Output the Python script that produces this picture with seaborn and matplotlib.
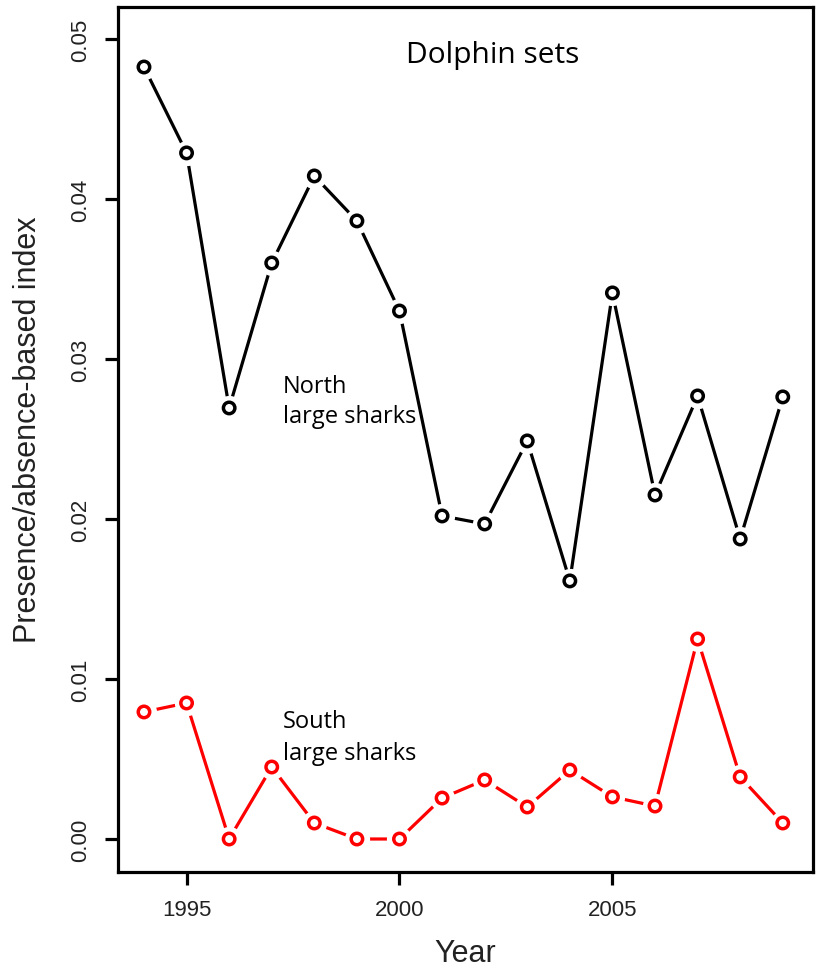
import matplotlib
matplotlib.use("Agg")
import matplotlib.pyplot as plt
import seaborn as sns
import pandas as pd

years = list(range(1994, 2010))
north = [0.04825, 0.04288, 0.02694, 0.0360, 0.04144, 0.03863, 0.0330, 0.02019,
         0.01969, 0.02488, 0.01613, 0.03413, 0.0215, 0.02769, 0.01875, 0.02763]
south = [0.00794, 0.0085, 0.0, 0.0045, 0.0010, 0.0, 0.0, 0.00256,
         0.00369, 0.0020, 0.00431, 0.00263, 0.00206, 0.0125, 0.00388, 0.0010]
x_ticks = [1995, 2000, 2005]
y_ticks = [0.00, 0.01, 0.02, 0.03, 0.04, 0.05]
y_tick_labels = ["0.00", "0.01", "0.02", "0.03", "0.04", "0.05"]

sns.set_theme(style="ticks")
plt.rcParams["font.family"] = ["Liberation Sans", "DejaVu Sans"]

df = pd.DataFrame({"Year": years * 2,
                   "index": north + south,
                   "group": ["North"] * len(years) + ["South"] * len(years)})
colors = {"North": "black", "South": "#ff0000"}

fig = plt.figure(figsize=(8.17, 9.70), dpi=100)
ax = fig.add_axes([118 / 817, 1 - 873 / 970, (813 - 118) / 817, (873 - 8) / 970])

sns.lineplot(data=df, x="Year", y="index", hue="group", palette=colors,
             linewidth=2.3, legend=False, ax=ax, zorder=1)
# white discs open a small gap in the line around each point
sns.scatterplot(data=df, x="Year", y="index", color="white", s=330,
                linewidth=0, legend=False, ax=ax, zorder=2)
sns.scatterplot(data=df, x="Year", y="index", hue="group", palette=colors,
                s=68, linewidth=2.5, legend=False, ax=ax, zorder=3)
# open circles: coloured edge, white face
pts = ax.collections[-1]
pts.set_edgecolors(pts.get_facecolors())
pts.set_facecolors("white")

ax.set_xlim(1993.39, 2009.71)
ax.set_ylim(-0.0020625, 0.0520)
ax.set_xticks(x_ticks)
ax.set_xticklabels([str(t) for t in x_ticks])
ax.set_yticks(y_ticks)
ax.set_yticklabels(y_tick_labels, rotation=90, va="center")

for s in ax.spines.values():
    s.set_visible(True)
    s.set_linewidth(2.3)
    s.set_color("black")
ax.tick_params(axis="both", direction="out", length=9.5, width=2.3,
               labelsize=16, colors="black", labelcolor="#222222", pad=10)

ax.set_xlabel("Year", fontsize=22, color="#222222")
ax.set_ylabel("Presence/absence-based index", fontsize=22, color="#222222")
ax.xaxis.set_label_coords(0.5, -0.076)
ax.yaxis.set_label_coords(-0.108, 0.513)

ann_font = ["Open Sans", "DejaVu Sans"]
ax.text(2002.2, 0.04856, "Dolphin sets", fontsize=21.5, family=ann_font,
        ha="center", va="baseline", color="black")
ax.text(1997.26, 0.02794, "North", fontsize=17, family=ann_font,
        ha="left", va="baseline", color="black")
ax.text(1997.26, 0.02606, "large sharks", fontsize=17, family=ann_font,
        ha="left", va="baseline", color="black")
ax.text(1997.26, 0.0070, "South", fontsize=17, family=ann_font,
        ha="left", va="baseline", color="black")
ax.text(1997.26, 0.0050, "large sharks", fontsize=17, family=ann_font,
        ha="left", va="baseline", color="black")

fig.savefig("out.png", dpi=100, facecolor="white")
